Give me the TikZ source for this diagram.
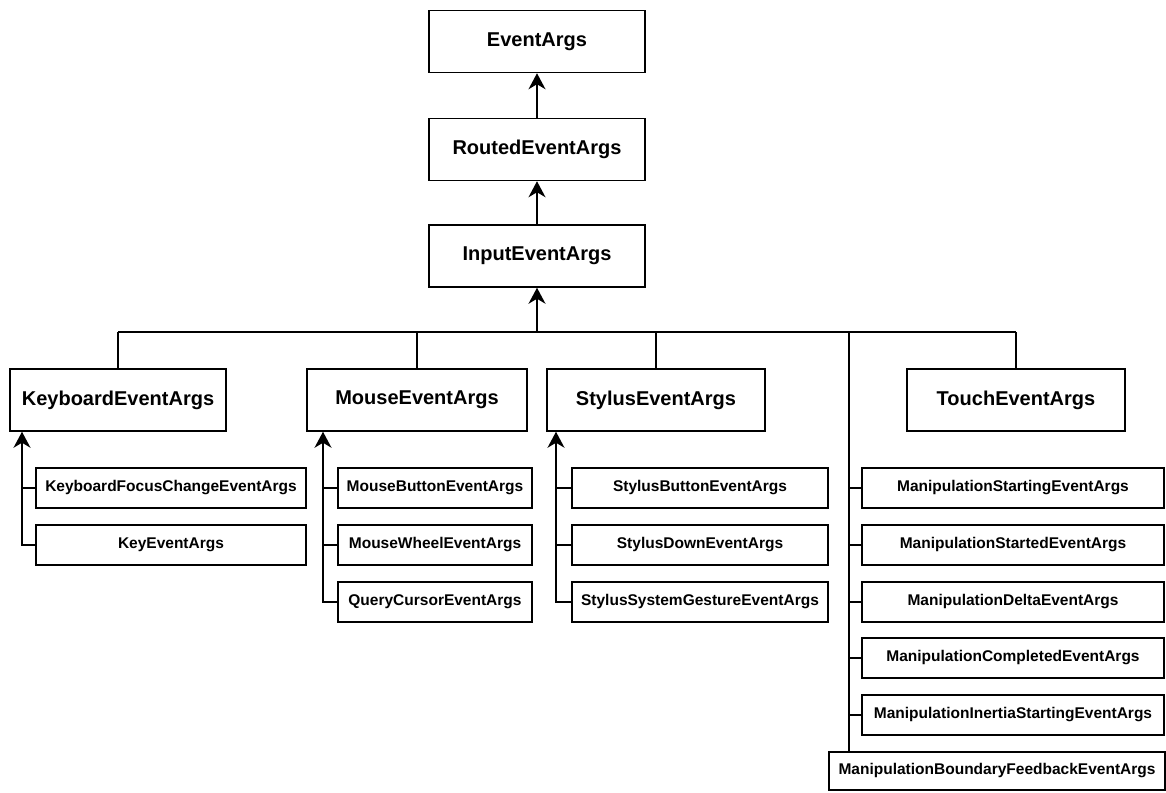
\documentclass[tikz,border=0pt]{standalone}
\usepackage{fontspec}
\setmainfont{Liberation Sans}
\usetikzlibrary{arrows.meta}

\begin{document}
\begin{tikzpicture}[x=1pt,y=-1pt,
  line width=1.5pt,
  box/.style={draw, rectangle, inner sep=0pt, align=center},
  bigbox/.style={box, minimum height=62pt, font=\fontsize{20}{22}\selectfont\bfseries},
  smallbox/.style={box, minimum height=40pt, font=\fontsize{15.5}{17}\selectfont\bfseries},
  arr/.style={-{Stealth[length=16pt,width=17pt,inset=5pt]}}
]
\useasboundingbox (0,0) rectangle (1166,792);

% base chain
\node[bigbox, minimum width=216pt] (ea)  at (537,41.5)  {EventArgs};
\node[bigbox, minimum width=216pt] (rea) at (537,149.5) {RoutedEventArgs};
\node[bigbox, minimum width=216pt] (iea) at (537,256)   {InputEventArgs};

% input device event args
\node[bigbox, minimum width=216pt] (kb) at (118,400)  {KeyboardEventArgs};
\node[bigbox, minimum width=220pt] (mo) at (417,400)  {MouseEventArgs};
\node[bigbox, minimum width=218pt] (st) at (656,400)  {StylusEventArgs};
\node[bigbox, minimum width=218pt] (to) at (1016,400) {TouchEventArgs};

% keyboard family
\node[smallbox, minimum width=270pt] (kfc) at (171,488) {KeyboardFocusChangeEventArgs};
\node[smallbox, minimum width=270pt] (key) at (171,545) {KeyEventArgs};

% mouse family
\node[smallbox, minimum width=194pt] (mbe) at (435,488) {MouseButtonEventArgs};
\node[smallbox, minimum width=194pt] (mwe) at (435,545) {MouseWheelEventArgs};
\node[smallbox, minimum width=194pt] (qce) at (435,602) {QueryCursorEventArgs};

% stylus family
\node[smallbox, minimum width=256pt] (sbe) at (700,488) {StylusButtonEventArgs};
\node[smallbox, minimum width=256pt] (sde) at (700,545) {StylusDownEventArgs};
\node[smallbox, minimum width=256pt] (sge) at (700,602) {StylusSystemGestureEventArgs};

% manipulation family
\node[smallbox, minimum width=302pt] (mse) at (1013,488) {ManipulationStartingEventArgs};
\node[smallbox, minimum width=302pt] (mde) at (1013,545) {ManipulationStartedEventArgs};
\node[smallbox, minimum width=302pt] (mle) at (1013,602) {ManipulationDeltaEventArgs};
\node[smallbox, minimum width=302pt] (mce) at (1013,658) {ManipulationCompletedEventArgs};
\node[smallbox, minimum width=302pt] (mie) at (1013,715) {ManipulationInertiaStartingEventArgs};
\node[smallbox, minimum width=336pt, minimum height=38pt] (mbf) at (997,771) {ManipulationBoundaryFeedbackEventArgs};

% inheritance of the base chain
\draw[arr] (rea) -- (ea);
\draw[arr] (iea) -- (rea);

% bus below InputEventArgs
\coordinate (bus) at (537,332);
\coordinate (man) at (849,332);
\draw[arr] (bus) -- (iea);
\draw (kb.north |- bus) -- (to.north |- bus);
\draw (kb.north |- bus) -- (kb.north);
\draw (mo.north |- bus) -- (mo.north);
\draw (st.north |- bus) -- (st.north);
\draw (to.north |- bus) -- (to.north);
\draw (man) -- (man |- mbf.north);

% keyboard branch
\coordinate (kbl) at (22,545);
\draw[arr] (key.west) -- (kbl) -- (kbl |- kb.south);
\draw (kfc.west) -- (kfc.west -| kbl);

% mouse branch
\coordinate (mol) at (323,602);
\draw[arr] (qce.west) -- (mol) -- (mol |- mo.south);
\draw (mbe.west) -- (mbe.west -| mol);
\draw (mwe.west) -- (mwe.west -| mol);

% stylus branch
\coordinate (stl) at (556,602);
\draw[arr] (sge.west) -- (stl) -- (stl |- st.south);
\draw (sbe.west) -- (sbe.west -| stl);
\draw (sde.west) -- (sde.west -| stl);

% manipulation branch
\foreach \n in {mse,mde,mle,mce,mie}
  \draw (\n.west) -- (\n.west -| man);
\end{tikzpicture}
\end{document}
